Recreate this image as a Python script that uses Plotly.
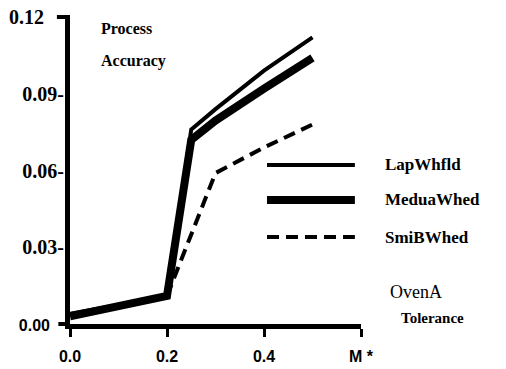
import plotly.graph_objects as go

# data
x_lap = [0.0, 0.2, 0.25, 0.3, 0.4, 0.5]
y_lap = [0.004, 0.011, 0.076, 0.084, 0.099, 0.112]
x_med = [0.0, 0.2, 0.25, 0.3, 0.4, 0.5]
y_med = [0.003, 0.011, 0.072, 0.0795, 0.092, 0.104]
x_smi = [0.2, 0.3, 0.4, 0.5]
y_smi = [0.011, 0.059, 0.069, 0.078]

series_names = ["LapWhfld", "MeduaWhed", "SmiBWhed"]
x_tickvals = [0.0, 0.2, 0.4, 0.6]
x_ticktext = ["0.0", "0.2", "0.4", "M *"]
y_tickvals = [0.0, 0.03, 0.06, 0.09, 0.12]
y_ticktext = ['<span style="font-family:Arial, Liberation Sans, sans-serif;font-size:16px">0.00</span>\u2002\u2009',
              "0.03-", "0.06-", "0.09-", "0.12\u2002\u2002"]

serif = "Times New Roman, Liberation Serif, serif"
sans = "Arial, Liberation Sans, sans-serif"

fig = go.Figure()
styles = [dict(width=4, dash="solid"), dict(width=8, dash="solid"), dict(width=4, dash="12px,7px")]
for (xs, ys), name, st in zip([(x_lap, y_lap), (x_med, y_med), (x_smi, y_smi)], series_names, styles):
    fig.add_trace(go.Scatter(x=xs, y=ys, mode="lines", name=name, showlegend=False,
                             line=dict(color="black", width=st["width"], dash=st["dash"]),
                             cliponaxis=False))

# manual legend
leg_y = [0.518, 0.404, 0.283]
for name, st, ly in zip(series_names, styles, leg_y):
    fig.add_shape(type="line", xref="paper", yref="paper", x0=0.677, x1=0.979, y0=ly, y1=ly,
                  line=dict(color="black", width=st["width"], dash=st["dash"]))
    fig.add_annotation(text=f"<b>{name}</b>", xref="paper", yref="paper", x=1.076, y=ly,
                       xanchor="left", yanchor="middle", showarrow=False,
                       font=dict(family=serif, size=17, color="black"))

# top tick and axis extension
fig.add_shape(type="line", xref="paper", yref="paper", x0=-0.045, x1=0.0, y0=1, y1=1,
              line=dict(color="black", width=4))
fig.add_shape(type="line", xref="paper", yref="paper", x0=-0.04, x1=0.0, y0=0, y1=0,
              line=dict(color="black", width=4))

# texts
fig.add_annotation(text="<b>Process</b>", xref="paper", yref="paper", x=0.100, y=0.962,
                   xanchor="left", yanchor="middle", showarrow=False,
                   font=dict(family=serif, size=16, color="black"))
fig.add_annotation(text="<b>Accuracy</b>", xref="paper", yref="paper", x=0.100, y=0.858,
                   xanchor="left", yanchor="middle", showarrow=False,
                   font=dict(family=serif, size=16, color="black"))
fig.add_annotation(text="OvenA", xref="paper", yref="paper", x=1.093, y=0.104,
                   xanchor="left", yanchor="middle", showarrow=False,
                   font=dict(family=serif, size=18, color="black"))
fig.add_annotation(text="<b>Tolerance</b>", xref="paper", yref="paper", x=1.36, y=0.02,
                   xanchor="right", yanchor="middle", showarrow=False,
                   font=dict(family=serif, size=15, color="black"))

fig.update_layout(
    width=506, height=369,
    margin=dict(l=70, r=145, t=17, b=45),
    paper_bgcolor="white", plot_bgcolor="white",
    showlegend=False,
    xaxis=dict(range=[0, 0.6], tickvals=x_tickvals, ticktext=x_ticktext, automargin=False,
               showgrid=False, zeroline=False, showline=True, linecolor="black", linewidth=5,
               ticks="outside", ticklen=8, tickwidth=3, tickcolor="black", ticklabelstandoff=6,
               tickfont=dict(family=sans, size=16, color="black", weight="bold")),
    yaxis=dict(range=[0, 0.12], tickvals=y_tickvals, ticktext=y_ticktext, automargin=False,
               showgrid=False, zeroline=False, showline=True, linecolor="black", linewidth=5,
               ticks="", ticklabelstandoff=-3,
               tickfont=dict(family=serif, size=20, color="black", weight="bold")),
)

fig.write_html("out.html")
